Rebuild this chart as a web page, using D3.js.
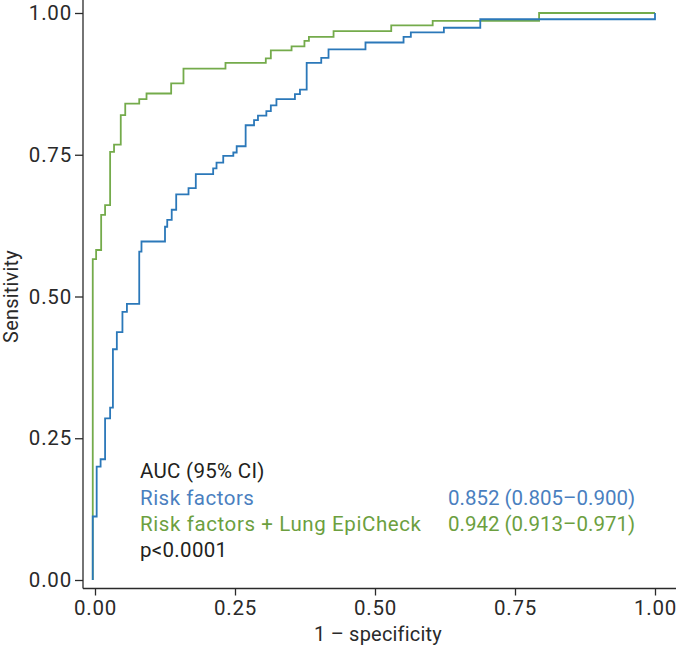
<!DOCTYPE html>
<html>
<head>
<meta charset="utf-8">
<script src="https://cdn.jsdelivr.net/npm/d3@7"></script>
<style>
  html, body { margin: 0; padding: 0; background: #fff; }
  svg { display: block; }
  text { font-family: Roboto, "DejaVu Sans", sans-serif; }
</style>
</head>
<body>
<svg id="chart" width="676" height="655"></svg>
<script>
// ---- Data ----
const xTicks = [0, 0.25, 0.5, 0.75, 1];
const yTicks = [0, 0.25, 0.5, 0.75, 1];
const tickLabels = ["0.00", "0.25", "0.50", "0.75", "1.00"];

// Risk factors + Lung EpiCheck (green)
const greenFpr = [-0.004, -0.004, 0.002, 0.011, 0.018, 0.027, 0.034, 0.046, 0.054, 0.079, 0.092, 0.136, 0.158, 0.233, 0.305, 0.314, 0.351, 0.374, 0.382, 0.426, 0.529, 0.603, 0.793, 1.0];
const greenTpr = [0, 0.566, 0.582, 0.644, 0.661, 0.755, 0.768, 0.820, 0.840, 0.848, 0.858, 0.876, 0.902, 0.912, 0.920, 0.934, 0.941, 0.951, 0.958, 0.968, 0.978, 0.986, 1.0, 1.0];

// Risk factors (blue)
const blueFpr = [-0.004, -0.004, 0.003, 0.010, 0.018, 0.027, 0.032, 0.039, 0.049, 0.057, 0.079, 0.083, 0.125, 0.129, 0.137, 0.145, 0.167, 0.180, 0.211, 0.217, 0.229, 0.247, 0.253, 0.269, 0.284, 0.291, 0.306, 0.314, 0.324, 0.357, 0.366, 0.378, 0.404, 0.417, 0.483, 0.551, 0.564, 0.623, 0.688, 1.0];
const blueTpr = [0, 0.112, 0.200, 0.213, 0.285, 0.304, 0.407, 0.437, 0.473, 0.487, 0.579, 0.597, 0.623, 0.635, 0.653, 0.680, 0.691, 0.716, 0.726, 0.736, 0.748, 0.754, 0.765, 0.802, 0.811, 0.819, 0.827, 0.837, 0.848, 0.857, 0.865, 0.912, 0.921, 0.936, 0.948, 0.958, 0.966, 0.974, 0.989, 1.0];

const legendHeader = "AUC (95% CI)";
const seriesNames = ["Risk factors", "Risk factors + Lung EpiCheck"];
const seriesAUC = ["0.852 (0.805\u20130.900)", "0.942 (0.913\u20130.971)"];
const pText = "p<0.0001";
const xTitle = "1 \u2013 specificity";
const yTitle = "Sensitivity";

// ---- Layout ----
const svg = d3.select("#chart");
const blue = "#2b78b9", green = "#74ab4b";
const blueText = "#4a7fc0", greenText = "#6c9f3f";
const axisColor = "#2a2a2a";

const x = d3.scaleLinear().domain([0, 1]).range([95, 655]);
const y = d3.scaleLinear().domain([0, 1]).range([580, 13]);
const axisX = 83, axisY = 588.5;

svg.append("rect").attr("width", 676).attr("height", 655).attr("fill", "#fff");

// axis lines
svg.append("line").attr("x1", axisX).attr("x2", axisX).attr("y1", 0).attr("y2", axisY)
  .attr("stroke", axisColor).attr("stroke-width", 1.3);
svg.append("line").attr("x1", axisX).attr("x2", 676).attr("y1", axisY).attr("y2", axisY)
  .attr("stroke", axisColor).attr("stroke-width", 1.3);

// x axis ticks
const xAxis = d3.axisBottom(x).tickValues(xTicks).tickSize(7).tickPadding(5)
  .tickFormat((d, i) => tickLabels[i]);
const gx = svg.append("g").attr("transform", `translate(0,${axisY})`).call(xAxis);
gx.select(".domain").remove();
gx.selectAll("line").attr("stroke", axisColor).attr("stroke-width", 1.3);
gx.selectAll("text").attr("font-size", 20.5).attr("letter-spacing", 0.8).attr("fill", axisColor)
  .attr("font-family", "Roboto, sans-serif");

// y axis ticks
const yAxis = d3.axisLeft(y).tickValues(yTicks).tickSize(8).tickPadding(3)
  .tickFormat((d, i) => tickLabels[i]);
const gy = svg.append("g").attr("transform", `translate(${axisX},0)`).call(yAxis);
gy.select(".domain").remove();
gy.selectAll("line").attr("stroke", axisColor).attr("stroke-width", 1.3);
gy.selectAll("text").attr("font-size", 20.5).attr("letter-spacing", 0.8).attr("fill", axisColor)
  .attr("font-family", "Roboto, sans-serif");

// axis titles
svg.append("text").attr("x", x(0.5) + 3).attr("y", 641).attr("text-anchor", "middle")
  .attr("font-size", 20).attr("letter-spacing", 0.2).attr("fill", axisColor).text(xTitle);
svg.append("text").attr("transform", `translate(18,${y(0.5)}) rotate(-90)`)
  .attr("text-anchor", "middle").attr("font-size", 20).attr("letter-spacing", 0.2).attr("fill", axisColor).text(yTitle);

// curves
const line = d3.line().x(d => x(d[0])).y(d => y(d[1])).curve(d3.curveStepAfter);
const greenPts = greenFpr.map((f, i) => [f, greenTpr[i]]);
const bluePts = blueFpr.map((f, i) => [f, blueTpr[i]]);
svg.append("path").attr("d", line(greenPts)).attr("fill", "none")
  .attr("stroke", green).attr("stroke-width", 1.8);
svg.append("path").attr("d", line(bluePts)).attr("fill", "none")
  .attr("stroke", blue).attr("stroke-width", 1.8);

// legend / annotation text
const fs = 20.5;
const col1 = 140, col2 = 448;
const rows = [478, 504.5, 531, 557];
function txt(xp, yp, color, s, ls) {
  svg.append("text").attr("x", xp).attr("y", yp).attr("font-size", fs)
    .attr("letter-spacing", ls).attr("fill", color).text(s);
}
txt(col1, rows[0], "#231f20", legendHeader, 0.3);
txt(col1, rows[1], blueText, seriesNames[0], 0.5);
txt(col2, rows[1], blueText, seriesAUC[0], 0);
txt(col1, rows[2], greenText, seriesNames[1], 0.6);
txt(col2, rows[2], greenText, seriesAUC[1], 0);
txt(col1, rows[3], "#231f20", pText, 0.3);
</script>
</body>
</html>
